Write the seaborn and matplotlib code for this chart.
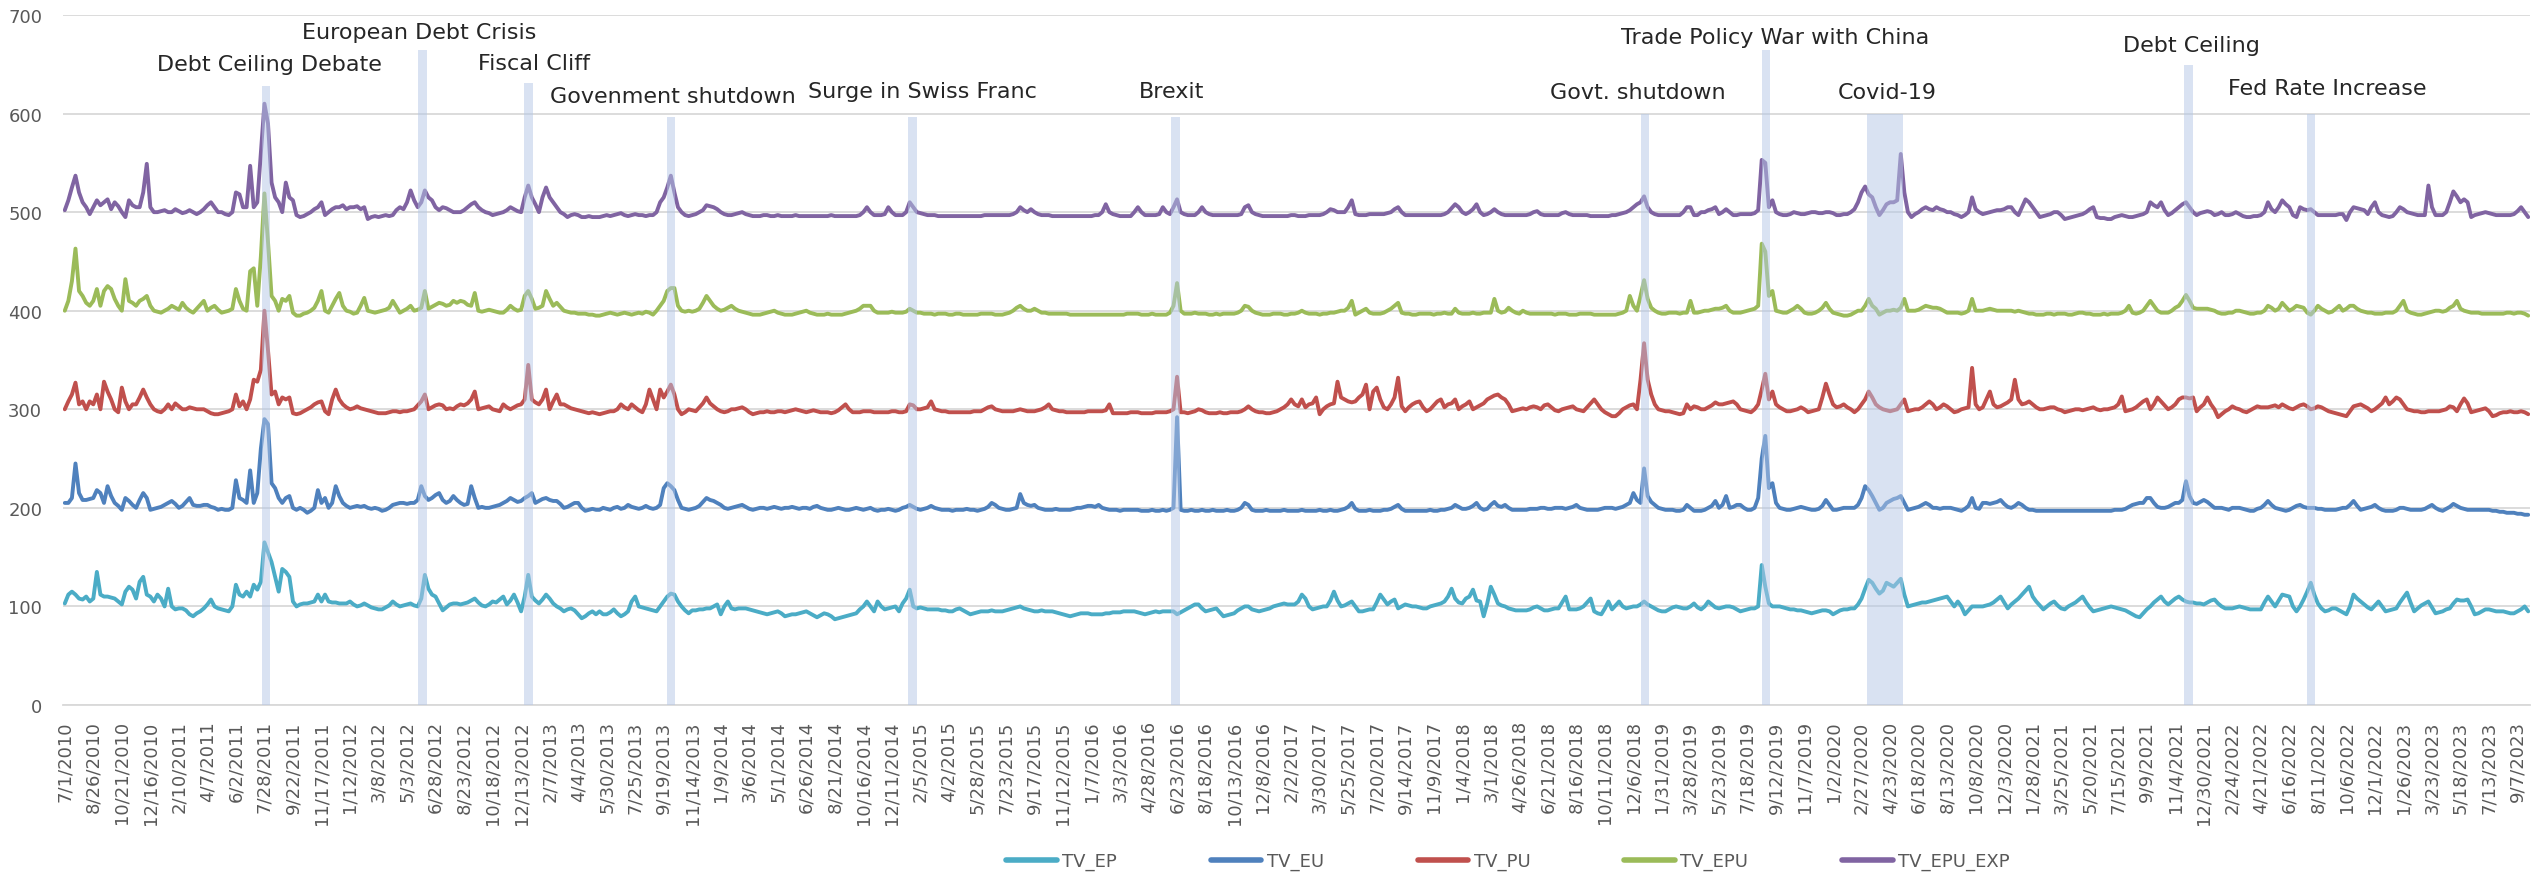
import numpy as np
import pandas as pd
import matplotlib
matplotlib.use('Agg')
import matplotlib.pyplot as plt
from matplotlib.lines import Line2D
import seaborn as sns

W, H = 2534, 879

series_names = ['TV_EP', 'TV_EU', 'TV_PU', 'TV_EPU', 'TV_EPU_EXP']
colors = ['#4BACC6', '#4F81BD', '#C0504D', '#9BBB59', '#8064A2']

# weekly values, first week 7/1/2010 (20 values per row)
tv_ep = [
    103,112,115,112,108,107,110,105,108,135,112,110,110,109,108,105,102,115,120,117,
    108,125,130,112,110,105,112,108,100,118,100,97,98,98,96,92,90,93,95,98,
    102,107,100,98,97,96,95,100,122,112,110,115,110,122,117,125,165,155,145,130,
    115,138,135,130,105,100,102,103,103,104,105,112,105,112,105,104,104,103,103,103,
    105,102,100,101,103,101,99,98,97,97,99,101,105,102,100,101,102,103,101,100,
    108,132,118,112,110,103,96,99,102,103,103,102,103,104,106,108,104,101,100,102,
    105,104,107,110,102,106,112,104,95,110,132,110,106,103,107,112,108,103,100,98,
    95,97,98,96,92,88,90,93,95,92,95,92,92,94,97,93,90,92,95,105,
    110,100,99,98,97,96,95,100,105,110,113,112,105,100,96,93,96,96,97,97,
    98,98,100,102,92,100,105,98,97,98,98,98,97,96,95,94,93,92,93,94,
    95,93,90,91,92,92,93,94,95,93,91,89,91,93,92,90,87,88,89,90,
    91,92,93,97,100,105,100,95,105,100,97,98,99,100,95,103,108,117,100,98,
    99,98,97,97,97,97,96,96,95,95,97,98,96,94,92,93,94,95,95,95,
    96,95,95,95,96,97,98,99,100,98,97,96,95,95,96,95,95,95,94,93,
    92,91,90,91,92,93,93,93,92,92,92,92,93,93,94,94,94,95,95,95,
    95,94,93,92,93,94,95,94,95,95,95,95,92,94,96,98,100,102,102,98,
    95,96,97,98,94,90,91,92,93,96,98,100,100,97,96,95,96,97,98,100,
    101,102,103,102,102,102,105,112,108,100,97,98,99,100,100,106,115,106,100,101,
    103,105,100,95,95,96,97,97,104,112,107,102,105,107,98,100,102,101,100,100,
    99,98,98,100,101,102,103,105,110,118,108,104,103,108,110,117,106,105,90,103,
    120,112,103,101,100,98,97,96,96,96,96,97,99,100,98,96,96,97,98,98,
    104,110,97,97,97,98,100,104,108,95,93,92,98,105,97,101,105,100,98,99,
    100,100,102,105,102,100,98,96,95,95,97,99,100,99,98,98,100,103,99,97,
    100,105,102,99,98,99,100,100,99,97,95,96,97,98,98,100,142,120,103,100,
    100,100,99,98,97,97,96,96,95,94,93,94,95,96,96,95,92,94,96,97,
    97,98,98,102,108,118,127,124,118,113,116,124,122,120,124,128,112,100,101,102,
    103,104,104,105,106,107,108,109,110,105,100,105,100,92,96,100,100,100,100,101,
    102,104,107,110,104,98,102,105,108,112,116,120,110,105,101,97,100,103,105,101,
    98,97,100,102,104,107,110,104,99,95,96,97,98,99,100,99,98,97,96,94,
    92,90,89,93,97,100,104,107,110,105,102,105,108,110,107,105,104,104,103,103,
    102,104,106,107,103,100,98,98,98,99,100,99,98,97,97,97,97,104,110,105,
    100,106,112,111,110,100,95,100,107,115,124,112,103,98,95,96,98,98,96,94,
    92,100,112,108,105,102,99,97,101,105,100,95,96,97,98,104,109,114,104,95,
    98,101,103,105,99,93,94,95,97,98,103,107,106,106,107,100,92,93,95,97,
    97,96,95,95,95,94,93,93,95,97,100,95,
]

tv_eu = [
    205,205,210,245,215,208,208,209,210,218,215,205,222,212,205,202,198,210,207,203,
    200,208,215,210,198,199,200,201,203,205,207,204,200,202,206,210,203,202,202,203,
    203,201,200,198,199,198,198,200,228,210,208,205,238,205,215,260,290,285,225,220,
    210,205,210,212,200,198,200,198,195,197,200,218,205,210,200,205,222,212,205,202,
    200,201,202,201,202,200,199,200,199,197,198,200,203,204,205,205,204,205,205,208,
    222,212,208,210,213,215,208,205,207,212,208,205,203,204,222,210,200,201,200,200,
    201,202,203,205,207,210,208,206,207,210,212,215,205,207,209,210,208,207,207,204,
    200,201,203,205,205,200,197,198,199,198,198,200,199,198,200,201,199,200,203,201,
    200,199,200,202,200,199,200,203,220,225,222,218,208,200,199,198,199,200,202,206,
    210,208,207,205,203,200,199,200,201,202,203,201,199,198,199,200,200,199,200,201,
    200,199,200,200,201,200,199,200,200,199,201,202,200,199,198,198,199,200,199,198,
    198,199,200,199,198,199,200,198,197,198,198,199,198,197,198,200,201,203,201,199,
    198,199,200,202,200,199,198,198,198,197,198,198,198,199,198,198,197,198,199,201,
    205,203,200,199,198,198,199,200,214,205,203,202,203,200,199,198,198,198,199,198,
    198,198,198,199,200,200,201,202,202,201,203,200,199,198,198,198,197,198,198,198,
    198,198,197,197,197,198,197,197,198,197,198,200,292,198,197,197,198,197,197,198,
    197,197,198,197,197,197,198,197,197,198,200,205,203,198,197,197,197,198,197,197,
    197,197,198,197,197,197,197,198,197,197,197,197,198,197,197,198,197,197,198,199,
    201,205,199,197,197,197,198,197,197,197,198,198,199,201,203,199,197,197,197,197,
    197,197,197,198,197,197,198,198,199,200,203,201,199,199,200,202,205,200,198,199,
    203,206,202,201,203,200,198,198,198,198,198,199,199,199,200,200,199,199,200,200,
    200,199,200,201,203,200,199,198,198,198,198,199,200,200,200,199,200,201,203,205,
    215,208,205,240,212,206,203,200,199,198,198,198,197,197,198,203,200,197,197,197,
    198,200,202,207,200,203,212,200,201,203,203,200,198,198,200,210,250,273,220,225,
    205,200,199,198,198,199,200,201,200,199,198,198,199,202,208,203,198,198,199,200,
    200,200,200,203,210,222,218,212,205,198,200,205,207,209,210,212,205,198,199,200,
    201,203,205,203,200,200,199,200,200,200,199,198,197,199,202,210,200,199,205,205,
    204,205,206,208,204,201,200,202,205,203,200,198,198,197,197,197,197,197,197,197,
    197,197,197,197,197,197,197,197,197,197,197,197,197,197,197,198,198,198,199,201,
    203,204,205,205,210,210,205,201,200,200,201,203,205,205,208,227,212,205,204,206,
    208,206,203,200,200,200,199,198,200,200,200,199,198,197,197,199,200,203,207,203,
    200,199,198,197,198,200,202,203,201,200,200,200,199,199,198,198,198,198,199,200,
    200,203,207,202,198,199,200,201,203,200,198,197,197,197,198,200,200,199,198,198,
    198,198,199,201,203,200,198,197,199,201,204,202,200,199,198,198,198,198,198,198,
    198,197,197,196,196,195,195,195,194,194,193,193,
]

tv_pu = [
    300,308,315,327,305,308,300,308,305,315,300,328,318,310,300,297,322,308,300,305,
    305,312,320,312,305,300,298,297,300,305,300,306,303,300,300,302,301,300,300,300,
    298,296,295,295,296,297,298,300,315,303,308,300,310,330,328,340,400,360,315,318,
    305,312,310,312,296,295,296,298,300,302,305,307,308,298,295,310,320,310,305,302,
    300,301,303,301,300,299,298,297,296,296,296,297,298,298,297,298,298,299,300,304,
    308,315,300,302,304,305,304,300,301,300,303,305,304,306,310,318,300,301,302,303,
    300,299,298,305,302,300,302,304,305,310,345,310,307,305,310,320,300,308,315,305,
    305,303,301,300,299,298,297,296,297,296,295,296,297,298,298,300,305,302,300,305,
    302,299,297,305,320,310,300,320,312,318,325,315,300,295,297,300,299,298,302,306,
    312,306,303,300,298,297,298,300,300,301,302,300,297,295,296,297,297,298,297,297,
    298,298,297,298,299,300,299,298,297,298,299,298,297,297,297,296,297,299,302,305,
    300,297,297,297,298,298,298,297,297,297,297,297,298,298,297,297,298,305,304,300,
    300,301,302,308,300,299,298,298,297,297,297,297,297,297,297,298,298,298,300,302,
    303,300,299,298,298,298,298,299,300,299,298,298,298,299,300,302,305,300,299,298,
    298,297,297,297,297,297,297,298,298,298,298,298,299,305,296,296,296,296,296,297,
    297,297,296,296,296,296,297,297,297,297,298,300,333,297,297,296,297,298,300,299,
    297,296,296,296,297,296,296,297,297,297,298,300,303,300,298,297,297,296,296,297,
    298,300,302,305,310,305,303,310,302,305,306,312,295,300,303,305,306,328,312,310,
    308,307,308,312,315,325,300,318,322,310,302,300,305,312,332,303,298,302,305,307,
    308,302,298,300,304,308,310,302,305,306,310,300,303,305,308,300,302,304,306,310,
    312,314,315,312,310,305,298,299,300,301,300,302,303,302,300,304,305,302,299,298,
    300,301,302,303,300,299,298,302,306,310,305,300,297,295,293,293,296,300,302,304,
    305,300,330,367,330,315,305,300,299,298,298,297,296,295,296,305,300,303,302,300,
    300,302,304,307,305,305,306,307,308,305,300,299,298,297,300,305,320,336,310,318,
    305,302,300,298,298,299,300,302,300,297,298,299,300,312,326,315,305,302,303,305,
    302,300,297,300,305,310,318,312,305,302,300,299,298,299,300,305,310,298,299,300,
    300,302,305,308,305,300,302,305,303,300,297,298,300,301,302,342,305,300,302,310,
    318,305,302,303,305,307,310,330,310,305,306,308,305,302,300,300,301,302,302,300,
    299,297,298,299,300,300,299,300,301,302,300,299,300,300,301,302,305,313,298,299,
    300,302,305,308,310,300,305,312,308,304,300,302,305,310,312,312,311,312,298,302,
    305,312,305,300,292,295,298,300,303,301,300,298,297,299,301,303,302,302,302,303,
    304,302,305,303,301,300,302,304,305,303,300,301,303,302,300,298,297,296,295,294,
    293,298,303,304,305,303,301,298,300,303,306,312,305,308,312,310,305,300,299,298,
    298,297,297,298,298,298,298,299,300,303,302,298,305,311,306,297,298,299,300,301,
    298,293,294,296,297,297,298,297,297,298,297,295,
]

tv_epu = [
    400,410,430,463,420,415,408,405,410,422,405,420,425,422,412,405,400,432,410,408,
    405,410,412,415,405,400,399,398,400,402,405,403,401,408,403,400,398,402,406,410,
    400,403,405,401,398,399,400,402,422,410,402,400,440,443,405,455,519,470,415,410,
    400,412,410,415,398,395,395,397,398,400,403,410,420,400,398,405,412,418,405,400,
    399,397,398,405,413,400,399,398,399,400,401,403,410,404,398,400,402,405,400,401,
    403,420,402,404,406,408,407,405,406,410,408,410,409,406,405,418,400,399,400,401,
    400,399,398,398,401,405,402,400,401,415,420,412,402,403,405,420,412,405,408,404,
    400,399,398,398,397,397,397,396,396,395,395,396,397,398,397,396,397,398,397,396,
    397,398,397,399,398,396,400,405,410,420,423,423,405,400,399,400,399,400,402,408,
    415,410,405,402,400,401,403,405,402,400,399,398,397,396,396,396,397,398,399,400,
    398,397,396,396,396,397,398,399,400,398,397,396,396,396,397,396,396,396,396,397,
    398,399,400,402,405,405,405,400,398,398,398,398,399,398,398,398,399,402,400,398,
    398,397,397,397,396,397,397,397,396,396,397,397,396,396,396,396,396,397,397,397,
    397,396,396,396,397,398,400,403,405,402,400,400,402,400,398,398,397,397,397,397,
    397,397,396,396,396,396,396,396,396,396,396,396,396,396,396,396,396,396,397,397,
    397,397,396,396,396,397,396,396,396,396,398,405,428,400,397,397,397,398,397,397,
    397,396,396,397,396,397,397,397,397,398,400,405,404,400,398,397,396,396,396,397,
    397,397,396,396,397,397,398,400,398,397,397,397,396,397,397,398,398,399,400,400,
    403,410,396,398,400,402,398,397,397,397,398,400,402,405,408,398,397,397,396,396,
    397,397,397,397,396,397,397,398,397,397,402,398,397,397,397,398,397,397,398,398,
    398,412,400,398,399,403,400,398,397,400,398,397,397,397,397,397,397,397,396,397,
    397,397,396,396,396,397,397,397,397,396,396,396,396,396,396,396,397,398,400,415,
    405,400,415,431,412,403,400,398,397,397,398,398,398,397,398,398,410,398,398,399,
    400,400,401,402,402,403,405,400,398,398,398,399,400,401,402,405,468,460,415,420,
    400,399,398,398,400,402,405,402,398,397,397,398,400,403,408,402,398,397,396,395,
    395,396,398,400,400,405,412,405,402,396,398,400,400,401,400,403,412,400,400,400,
    401,403,405,404,403,403,402,400,398,398,398,398,397,398,400,412,400,400,400,401,
    402,401,400,400,400,400,400,399,400,399,398,397,397,396,396,396,397,397,396,397,
    397,397,396,396,397,398,398,397,397,396,396,396,397,396,397,397,397,398,400,405,
    398,397,398,400,405,410,405,400,398,398,398,400,403,405,410,416,410,403,402,402,
    402,402,401,400,398,397,397,398,398,400,400,399,398,397,397,398,398,400,405,403,
    400,402,408,404,400,402,405,404,403,398,396,400,405,402,400,398,399,402,405,400,
    402,405,405,402,400,399,398,398,397,397,397,398,398,398,400,405,410,400,398,397,
    396,396,397,398,399,400,400,399,400,403,405,410,402,400,399,398,398,398,397,397,
    397,397,397,397,397,398,398,397,398,398,397,395,
]

tv_epu_exp = [
    502,512,525,537,520,510,505,498,505,512,507,510,513,503,510,506,500,495,512,507,
    505,505,520,549,505,500,500,501,502,500,500,503,501,499,500,502,500,498,500,503,
    507,510,505,500,500,498,497,500,520,518,505,505,547,505,510,560,610,590,530,515,
    510,500,530,515,512,497,495,496,498,500,503,505,510,497,500,503,505,505,507,503,
    505,505,506,503,505,493,495,496,495,496,497,496,497,502,505,503,510,522,512,505,
    510,522,515,512,505,502,505,504,502,500,500,500,502,505,508,510,505,502,500,499,
    497,498,499,500,502,505,503,501,500,515,527,515,508,500,515,525,515,510,505,500,
    498,495,497,498,497,495,495,496,495,495,495,496,497,496,497,498,499,497,496,497,
    498,497,497,496,497,497,500,510,515,525,537,520,505,500,497,496,497,498,500,502,
    507,506,505,503,500,498,497,497,498,499,500,498,497,496,496,496,497,497,496,496,
    497,496,496,496,496,497,496,496,496,496,496,496,496,496,496,497,496,496,496,496,
    496,496,496,497,500,505,500,497,497,497,498,505,500,497,497,497,500,510,505,500,
    499,498,497,497,497,496,496,496,496,496,496,496,496,496,496,496,496,496,497,497,
    497,497,497,497,497,497,498,500,505,502,500,503,500,498,497,497,497,496,496,496,
    496,496,496,496,496,496,496,496,496,497,497,500,508,500,498,497,496,496,496,496,
    500,505,500,497,497,497,497,498,505,500,498,505,513,500,498,497,497,497,500,505,
    500,498,497,497,497,497,497,497,497,497,498,505,507,500,498,497,496,496,496,496,
    496,496,496,496,497,497,496,496,496,497,497,497,497,498,500,503,502,500,500,500,
    505,512,498,497,497,497,498,498,498,498,498,499,500,503,505,500,497,497,497,497,
    497,497,497,497,497,497,497,498,500,504,508,505,500,498,500,503,508,500,497,498,
    500,503,500,498,497,497,497,497,497,497,497,498,500,501,498,497,497,497,497,497,
    499,500,498,497,497,497,497,497,496,496,496,496,496,496,497,497,498,499,500,502,
    505,508,510,516,505,500,498,497,497,497,497,497,497,497,500,505,505,497,497,500,
    500,502,503,505,498,500,503,500,497,497,498,498,498,498,499,502,553,550,505,512,
    500,498,497,497,498,500,499,498,498,499,500,500,499,499,500,500,499,497,497,498,
    498,500,503,510,520,526,518,515,505,497,502,508,510,510,512,559,520,500,495,498,
    500,503,505,503,502,505,503,502,500,500,498,497,495,497,500,515,503,500,498,499,
    500,501,502,502,503,505,505,500,497,505,513,510,505,500,495,496,497,498,500,500,
    497,493,494,495,496,497,498,500,503,505,495,494,494,493,493,495,496,497,496,495,
    495,496,497,498,500,510,507,505,510,502,497,499,502,505,508,510,505,500,497,499,
    500,501,500,497,498,500,497,497,498,500,498,496,495,495,496,496,497,500,510,503,
    500,505,512,508,505,497,495,505,503,502,503,500,497,497,497,497,497,497,498,498,
    492,500,505,504,503,502,498,505,510,500,497,496,495,496,500,505,503,500,499,498,
    497,497,497,527,505,497,497,497,500,510,521,516,510,513,510,495,497,498,499,500,
    499,498,497,497,497,497,497,498,501,505,500,495,
]

# events: shaded week ranges (week index from 7/1/2010) and band top value
event_labels = ['Debt Ceiling Debate', 'European Debt Crisis', 'Fiscal Cliff',
                'Govenment shutdown', 'Surge in Swiss Franc', 'Brexit',
                'Govt. shutdown', 'Trade Policy War with China', 'Covid-19',
                'Debt Ceiling', 'Fed Rate Increase']
event_start = [55.3, 99.2, 128.8, 168.9, 236.5, 310.3, 442.0, 476.1, 505.4, 594.5, 628.9]
event_end = [57.7, 101.7, 131.2, 171.1, 239.0, 312.9, 444.3, 478.4, 515.7, 597.1, 631.3]
event_top = [628, 664, 631, 597, 597, 597, 600, 664, 600, 649, 600]

# annotation text anchors in figure pixels (left, middle)
text_px = [(157, 65), (302, 33), (478, 64), (550, 97), (808, 92), (1139, 92),
           (1550, 93), (1621, 38), (1838, 93), (2123, 46), (2228, 89)]


def main():
    sns.set_style('white')
    plt.rcParams['font.family'] = ['DejaVu Sans']

    data = [tv_ep, tv_eu, tv_pu, tv_epu, tv_epu_exp]
    n = len(tv_ep)
    for d in data:
        assert len(d) == n, len(d)

    dates = pd.date_range('2010-07-01', periods=n, freq='7D')
    df = pd.DataFrame({'week': np.arange(n)})
    for name, vals in zip(series_names, data):
        df[name] = vals
    long = df.melt(id_vars='week', var_name='series', value_name='value')

    fig = plt.figure(figsize=(W / 100, H / 100), dpi=100)
    ax = fig.add_axes([63 / W, 1 - 706 / H, (2530 - 63) / W, (706 - 16) / H])

    sns.lineplot(data=long, x='week', y='value', hue='series', hue_order=series_names,
                 palette=colors, linewidth=2.8, ax=ax, legend=False, zorder=2)

    for s, e, top in zip(event_start, event_end, event_top):
        ax.axvspan(s, e, ymin=0, ymax=top / 700, color='#B4C7E7', alpha=0.5,
                   lw=0, zorder=3)

    ax.set_xlim(-0.5, n - 0.5)
    ax.set_ylim(0, 700)
    ax.set_yticks(range(0, 701, 100))
    ax.grid(axis='y', color='#D9D9D9', linewidth=1.3)
    ax.grid(axis='x', visible=False)
    ax.set_axisbelow(True)
    ax.set_xlabel('')
    ax.set_ylabel('')

    major = list(range(0, n, 8))
    ax.set_xticks(major)
    ax.set_xticklabels(['%d/%d/%d' % (dates[i].month, dates[i].day, dates[i].year) for i in major])
    ax.set_xticks(range(n), minor=True)
    ax.tick_params(axis='x', which='both', length=6, width=1, color='#D0D0D0',
                   pad=5, labelrotation=90, labelsize=13, labelcolor='#595959')
    ax.tick_params(axis='y', length=0, pad=15, labelsize=13, labelcolor='#595959')

    for side in ['left', 'right', 'top']:
        ax.spines[side].set_visible(False)
    ax.spines['bottom'].set_color('#D9D9D9')
    ax.spines['bottom'].set_linewidth(1.3)

    for label, (px, py) in zip(event_labels, text_px):
        fig.text(px / W, 1 - py / H, label, ha='left', va='center',
                 fontsize=16, color='#262626')

    handles = [Line2D([], [], color=c, linewidth=4) for c in colors]
    fig.legend(handles, series_names, loc='center', bbox_to_anchor=(1508 / W, 1 - 862 / H),
               ncol=5, frameon=False, fontsize=13, handlelength=2.8, handletextpad=0.3,
               columnspacing=5.2, labelcolor='#595959')

    fig.savefig('out.png', dpi=100)


if __name__ == '__main__':
    main()
